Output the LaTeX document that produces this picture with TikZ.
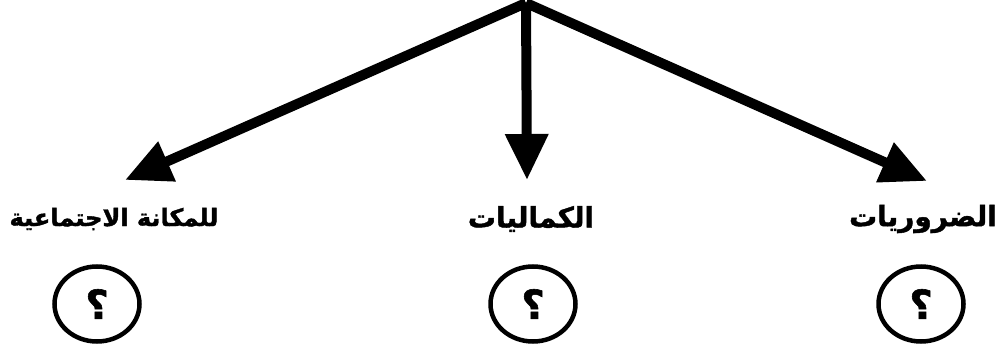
\documentclass[tikz,border=0pt]{standalone}
\usepackage{fontspec}
\newfontfamily\arabicfont[Script=Arabic,BoldFeatures={FakeBold=1.5}]{DejaVu Sans}
\TeXXeTstate=1
\usetikzlibrary{arrows.meta,shapes.geometric}

\begin{document}
\begin{tikzpicture}[x=1pt,y=-1pt,
  every node/.style={font=\arabicfont\bfseries\fontsize{28}{30}\selectfont},
  lbl/.style={inner sep=0pt},
  qn/.style={ellipse,draw,line width=4.5pt,minimum width=85pt,minimum height=75pt,inner sep=0pt,
    font=\arabicfont\bfseries\fontsize{40}{40}\selectfont},
  arr/.style={line width=10pt,-{Triangle[length=46pt,width=41pt]}}]
 \useasboundingbox (0,0) rectangle (998,350);
 % apex and arrow ends
 \coordinate (top) at (526,3);
 \coordinate (L) at (125,180);
 \coordinate (M) at (527,180);
 \coordinate (R) at (927,181);
 \foreach \b in {L,M,R}
   \draw[arr] (top)--(\b);
 % labels
 \node[lbl,font=\arabicfont\bfseries\fontsize{24}{30}\selectfont] (tL) at (114,219) {\beginR للمكانة الاجتماعية\endR};
 \node[lbl] (tM) at (531,219) {\beginR الكماليات\endR};
 \node[lbl] (tR) at (923,219) {\beginR الضروريات\endR};
 % question circles
 \node[qn] (qL) at (97,304) {\beginR ؟\endR};
 \node[qn] (qM) at (533,304) {\beginR ؟\endR};
 \node[qn] (qR) at (921,304) {\beginR ؟\endR};
\end{tikzpicture}
\end{document}
